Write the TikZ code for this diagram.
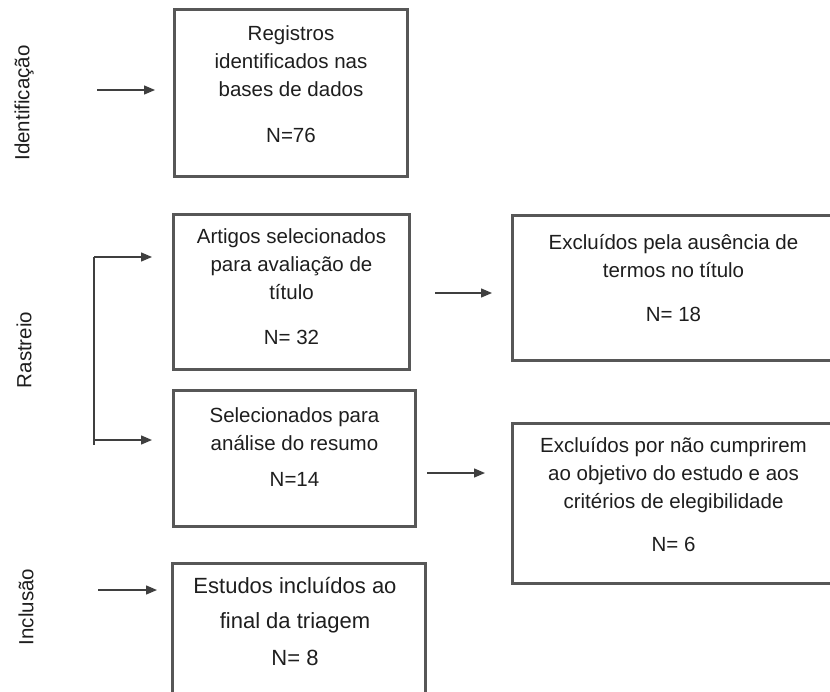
\documentclass[tikz,border=0pt]{standalone}
\usepackage{fontspec}
\setmainfont{Liberation Sans}
\usetikzlibrary{arrows.meta}
\definecolor{boxc}{HTML}{575757}
\definecolor{arrc}{HTML}{3F3F3F}
\definecolor{txtc}{HTML}{1E1E1E}
\begin{document}
\begin{tikzpicture}[x=1pt,y=-1pt,
 box/.style={draw=boxc,line width=3pt,anchor=north west,inner sep=0pt},
 lbl/.style={anchor=north,inner sep=0pt,align=center,text=txtc,font=\fontsize{20.5}{28}\selectfont},
 lblbig/.style={lbl,font=\fontsize{22}{35}\selectfont},
 side/.style={rotate=90,inner sep=0pt,text=txtc,font=\fontsize{20.5}{28}\selectfont},
 arr/.style={draw=arrc,line width=1.4pt,-{Triangle[length=11pt,width=9pt]}},
 brk/.style={draw=arrc,line width=1.4pt}]
\useasboundingbox (0,0) rectangle (830,691);

% boxes
\node[box,minimum width=233pt,minimum height=167pt] (b1) at (173,8) {};
\node[box,minimum width=236pt,minimum height=155pt] (b2) at (172,213) {};
\node[box,minimum width=242pt,minimum height=136pt] (b3) at (172,389) {};
\node[box,minimum width=340pt,minimum height=145pt] (b4) at (511,214) {};
\node[box,minimum width=340pt,minimum height=160pt] (b5) at (511,422) {};
\node[box,minimum width=253pt,minimum height=140pt] (b6) at (171,562) {};

% texts
\node[lbl] (t1) at (291,20.5) {\rule{0pt}{20pt}Registros\\identificados nas\\bases de dados\\[18pt]N=76};
\node[lbl] (t2) at (291.5,223.5) {\rule{0pt}{20pt}Artigos selecionados\\para avaliação de\\título\\[17pt]N= 32};
\node[lbl] (t3) at (294.5,402.5) {\rule{0pt}{20pt}Selecionados para\\análise do resumo\\[8pt]N=14};
\node[lbl] (t4) at (673.5,229.5) {\rule{0pt}{20pt}Excluídos pela ausência de\\termos no título\\[16pt]N= 18};
\node[lbl] (t5) at (673.5,432.5) {\rule{0pt}{20pt}Excluídos por não cumprirem\\ao objetivo do estudo e aos\\critérios de elegibilidade\\[15pt]N= 6};
\node[lblbig] (t6) at (295,572) {\rule{0pt}{21pt}Estudos incluídos ao\\final da triagem\\[2pt]N= 8};

% side labels
\node[side] (s1) at (24,103) {Identificação};
\node[side] (s2) at (24,350) {Rastreio};
\node[side] (s3) at (26,607) {Inclusão};

% arrows
\coordinate (a1s) at (97,90);  \coordinate (a1e) at (155,90);
\coordinate (bt) at (94,257);  \coordinate (bte) at (152,257);
\coordinate (bb) at (94,440);  \coordinate (bbe) at (152,440);
\coordinate (bend) at (94,445);
\coordinate (a4s) at (435,293); \coordinate (a4e) at (492,293);
\coordinate (a5s) at (427,473); \coordinate (a5e) at (485,473);
\coordinate (a6s) at (98,590);  \coordinate (a6e) at (157,590);

\draw[arr] (a1s) -- (a1e);
\draw[brk] (bt) -- (bend);
\draw[arr] (bt) -- (bte);
\draw[arr] (bb) -- (bbe);
\draw[arr] (a4s) -- (a4e);
\draw[arr] (a5s) -- (a5e);
\draw[arr] (a6s) -- (a6e);
\end{tikzpicture}
\end{document}
